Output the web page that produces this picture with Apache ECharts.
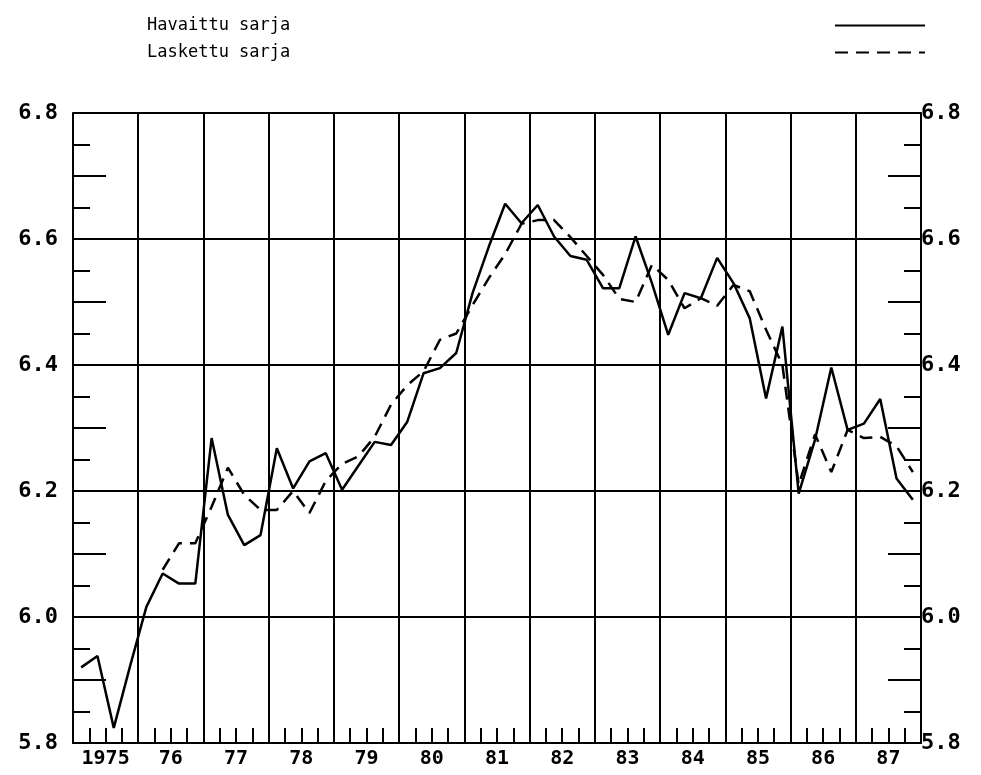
<!DOCTYPE html>
<html>
<head>
<meta charset="utf-8">
<title>Havaittu ja laskettu sarja</title>
<script src="https://cdn.jsdelivr.net/npm/echarts@6/dist/echarts.min.js"></script>
<style>
  html, body { margin: 0; padding: 0; background: #fff; }
  #chart { width: 981px; height: 775px; }
</style>
</head>
<body>
<div id="chart"></div>
<script>
// vuodet (x-akselin tekstit), neljännesvuosittaiset havainnot
var years = ["1975", "76", "77", "78", "79", "80", "81", "82", "83", "84", "85", "86", "87"];

var havaittu = [
  5.920, 5.938, 5.824, 5.922,
  6.016, 6.069, 6.053, 6.053,
  6.284, 6.162, 6.114, 6.130,
  6.268, 6.204, 6.247, 6.260,
  6.202, 6.240, 6.278, 6.273,
  6.310, 6.387, 6.395, 6.419,
  6.514, 6.588, 6.656, 6.625,
  6.654, 6.604, 6.573, 6.567,
  6.522, 6.522, 6.604, 6.530,
  6.448, 6.514, 6.506, 6.570,
  6.530, 6.474, 6.347, 6.461,
  6.196, 6.281, 6.396, 6.297,
  6.307, 6.346, 6.220, 6.186
];

var laskettu = [
  null, null, null, null,
  null, 6.075, 6.117, 6.117,
  6.175, 6.237, 6.194, 6.170,
  6.170, 6.200, 6.165, 6.216,
  6.243, 6.255, 6.286, 6.337,
  6.368, 6.390, 6.440, 6.450,
  6.495, 6.538, 6.576, 6.624,
  6.630, 6.630, 6.603, 6.573,
  6.543, 6.505, 6.500, 6.559,
  6.535, 6.490, 6.506, 6.494,
  6.527, 6.517, 6.456, 6.400,
  6.210, 6.290, 6.230, 6.297,
  6.284, 6.286, 6.271, 6.230
];

var yTicks = [5.8, 6.0, 6.2, 6.4, 6.6, 6.8];

// neljännes i piirretään neljänneksen keskelle
function toPoints(arr) {
  var out = [];
  arr.forEach(function (v, i) {
    if (v !== null) out.push([i + 0.5, v]);
  });
  return out;
}

var black = "#000";
var font = "DejaVu Sans Mono";

var chart = echarts.init(document.getElementById("chart"), null, { renderer: "canvas" });

function yAxisMain(pos, showSplit) {
  return {
    type: "value",
    position: pos,
    min: 5.8,
    max: 6.8,
    interval: 0.2,
    axisLine: { show: true, lineStyle: { color: black, width: 2 } },
    axisTick: { show: false, inside: true },
    minorTick: { show: true, splitNumber: 4, length: 17, lineStyle: { color: black, width: 2 } },
    splitLine: { show: showSplit, lineStyle: { color: black, width: 2 } },
    axisLabel: {
      show: true,
      margin: pos === "left" ? 15 : 0,
      color: black,
      fontFamily: font,
      fontSize: 22,
      fontWeight: "bold",
      formatter: function (v) {
        var hit = yTicks.some(function (t) { return Math.abs(t - v) < 1e-6; });
        return hit ? v.toFixed(1) : "";
      }
    }
  };
}

function yAxisLong(pos) {
  return {
    type: "value",
    position: pos,
    min: 5.8,
    max: 6.8,
    interval: 0.1,
    axisLine: { show: false },
    axisTick: { show: true, inside: true, length: 33, lineStyle: { color: black, width: 2 } },
    splitLine: { show: false },
    axisLabel: { show: false }
  };
}

chart.setOption({
  animation: false,
  backgroundColor: "#fff",
  legend: {
    orient: "vertical",
    left: 142,
    top: 12,
    align: "right",
    itemWidth: 90,
    itemHeight: 17,
    itemGap: 10,
    selectedMode: false,
    itemStyle: { opacity: 0 },
    formatter: "{t|{name}}",
    textStyle: {
      color: black,
      fontFamily: font,
      fontSize: 17,
      lineHeight: 17,
      rich: {
        t: { width: 683, align: "left", fontFamily: font, fontSize: 17, color: black }
      }
    },
    data: ["Havaittu sarja", "Laskettu sarja"]
  },
  grid: {
    left: 73,
    right: 60,
    top: 113,
    bottom: 32,
    outerBoundsMode: "none"
  },
  xAxis: [
    {
      type: "value",
      min: 0,
      max: 52,
      interval: 4,
      axisLine: { show: true, lineStyle: { color: black, width: 2 } },
      axisTick: { show: false, inside: true },
      minorTick: { show: true, splitNumber: 4, length: 15, lineStyle: { color: black, width: 2 } },
      splitLine: { show: true, lineStyle: { color: black, width: 2 } },
      axisLabel: { show: false }
    },
    {
      type: "category",
      position: "bottom",
      data: years,
      boundaryGap: true,
      axisLine: { show: false },
      axisTick: { show: false },
      splitLine: { show: false },
      axisLabel: {
        show: true,
        interval: 0,
        margin: 6,
        color: black,
        fontFamily: font,
        fontSize: 20,
        fontWeight: "bold"
      }
    }
  ],
  yAxis: [
    yAxisMain("left", true),
    yAxisMain("right", false),
    yAxisLong("left"),
    yAxisLong("right")
  ],
  series: [
    {
      name: "Havaittu sarja",
      type: "line",
      xAxisIndex: 0,
      yAxisIndex: 0,
      symbol: "none",
      data: toPoints(havaittu),
      lineStyle: { color: black, width: 2.5, type: "solid" },
      itemStyle: { color: black }
    },
    {
      name: "Laskettu sarja",
      type: "line",
      xAxisIndex: 0,
      yAxisIndex: 0,
      symbol: "none",
      data: toPoints(laskettu),
      lineStyle: { color: black, width: 2.5, type: [13, 8] },
      itemStyle: { color: black }
    }
  ]
});
</script>
</body>
</html>
